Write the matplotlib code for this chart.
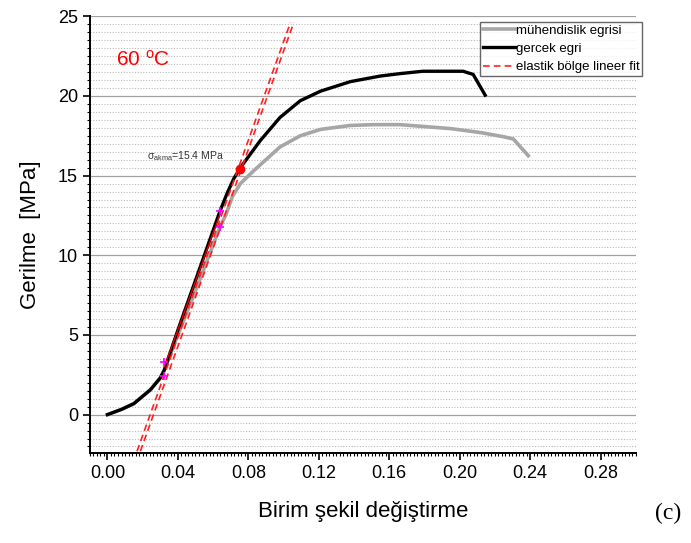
import matplotlib.pyplot as plt
from matplotlib.ticker import MultipleLocator

plt.rcParams['font.family'] = ['Liberation Sans', 'DejaVu Sans']
plt.rcParams['mathtext.fontset'] = 'custom'
plt.rcParams['mathtext.rm'] = 'Liberation Sans'
plt.rcParams['mathtext.it'] = 'Liberation Sans'

# strain / stress values
strain_true = [0.0, 0.008, 0.015, 0.0244, 0.030, 0.0323, 0.040, 0.048, 0.056, 0.064,
               0.068, 0.0717, 0.0755, 0.0868, 0.098, 0.1095, 0.121, 0.138, 0.155,
               0.166, 0.179, 0.202, 0.2077, 0.2145]
stress_true = [0.0, 0.33, 0.69, 1.56, 2.3, 2.8, 5.3, 7.8, 10.3, 12.8,
               13.9, 14.8, 15.5, 17.2, 18.65, 19.7, 20.3, 20.9, 21.25,
               21.4, 21.55, 21.55, 21.35, 20.05]

strain_eng = [0.0, 0.008, 0.015, 0.0244, 0.030, 0.0323, 0.040, 0.048, 0.056, 0.064,
              0.0675, 0.071, 0.0755, 0.083, 0.098, 0.1095, 0.121, 0.138, 0.151,
              0.166, 0.195, 0.212, 0.225, 0.2305, 0.239]
stress_eng = [0.0, 0.33, 0.69, 1.56, 2.3, 2.8, 5.0, 7.2, 9.5, 11.8,
              12.6, 13.7, 14.5, 15.3, 16.8, 17.5, 17.9, 18.15, 18.2,
              18.2, 17.95, 17.7, 17.44, 17.3, 16.25]

# elastic fit lines (two, nearly parallel)
fit1_x = [0.0168, 0.1039]
fit1_y = [-2.3, 24.6]
fit2_x = [0.0187, 0.1058]
fit2_y = [-2.3, 24.6]

fit_range_x = [0.0323, 0.064]
fit_range_y = [3.0, 12.6]

marker_x = [0.032, 0.032, 0.064, 0.064]
marker_y = [3.3, 2.4, 12.8, 11.8]

yield_strain = 0.0755
yield_stress = 15.4

fig = plt.figure(figsize=(6.91, 5.43), dpi=100)
ax = fig.add_axes([0.130, 0.166, 0.790, 0.804])

ax.plot(strain_eng, stress_eng, color="#a6a6a6", lw=2.6, label="mühendislik egrisi", zorder=3)
ax.plot(strain_true, stress_true, color="black", lw=2.4, label="gercek egri", zorder=4)
ax.plot(fit1_x, fit1_y, color="#ff2020", lw=1.2, ls=(0, (4, 2.5)),
        label="elastik bölge lineer fit", zorder=5)
ax.plot(fit2_x, fit2_y, color="#ff2020", lw=1.2, ls=(0, (4, 2.5)), zorder=5)
ax.plot(fit_range_x, fit_range_y, color="#e00000", lw=1.0, zorder=6)
ax.plot(marker_x, marker_y, ls="none", marker="+", ms=6, mew=1.2, color="#ff00ff", zorder=7)
ax.plot([yield_strain], [yield_stress], "o", color="red", ms=6, zorder=8)

ax.text(0.0227, 16.25, r"$\sigma_{\mathregular{akma}}$=15.4 MPa", fontsize=7.5,
        color="#333333", va="center", ha="left", zorder=9)
ax.text(0.005, 22.3, "60 $^{\\mathregular{o}}$C", fontsize=15, color="red",
        va="center", ha="left")

ax.set_xlim(-0.01, 0.30)
ax.set_ylim(-2.4, 25)
ax.xaxis.set_major_locator(MultipleLocator(0.04))
ax.xaxis.set_minor_locator(MultipleLocator(0.002))
ax.yaxis.set_major_locator(MultipleLocator(5))
ax.yaxis.set_minor_locator(MultipleLocator(0.5))
ax.set_xticks([0.0, 0.04, 0.08, 0.12, 0.16, 0.20, 0.24, 0.28])
ax.set_xticklabels(["0.00", "0.04", "0.08", "0.12", "0.16", "0.20", "0.24", "0.28"])

ax.grid(which="major", axis="y", color="#a0a0a0", lw=0.9)
ax.grid(which="minor", axis="y", color="#b8b8b8", lw=0.8, ls=(0, (1, 1.5)))
ax.set_axisbelow(True)

ax.spines["top"].set_visible(False)
ax.spines["right"].set_visible(False)
ax.spines["left"].set_linewidth(1.4)
ax.spines["bottom"].set_linewidth(1.4)
ax.tick_params(which="major", direction="out", length=5, width=1.2, labelsize=13, colors="black")
ax.tick_params(which="minor", direction="out", length=2.5, width=0.8)

ax.set_xlabel("Birim şekil değiştirme", fontsize=16, labelpad=14)
ax.set_ylabel("Gerilme  [MPa]", fontsize=16, labelpad=12)

leg = ax.legend(loc="upper right", bbox_to_anchor=(1.012, 0.987), fontsize=9.5,
                frameon=True, fancybox=False, edgecolor="#404040",
                handlelength=2.4, handletextpad=0.1, borderpad=0.2,
                labelspacing=0.45, borderaxespad=0.0)
leg.get_frame().set_linewidth(1.0)

fig.text(0.948, 0.055, "(c)", fontsize=17, family="Liberation Serif", ha="left", va="center")

fig.savefig("out.png", dpi=100)
